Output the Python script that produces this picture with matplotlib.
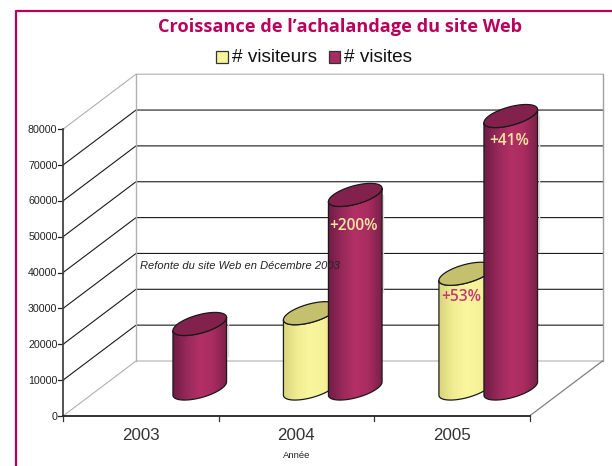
import numpy as np
import matplotlib
matplotlib.use('Agg')
import matplotlib.pyplot as plt
from matplotlib.patches import Polygon, Rectangle
from matplotlib.colors import LinearSegmentedColormap

# Данные
years = ['2003', '2004', '2005']
visiteurs = [None, 21000, 32000]
visites = [18000, 54000, 76000]
y_ticks = [0, 10000, 20000, 30000, 40000, 50000, 60000, 70000, 80000]

title = 'Croissance de l’achalandage du site Web'
note = 'Refonte du site Web en Décembre 2003'
labels_visiteurs = [None, None, '+53%']
labels_visites = [None, '+200%', '+41%']

# Геометрия в пикселях исходной картинки
X0, Y0 = 63, 416
CAT_W = 155.5
UNIT = 35.85 / 10000
DX, DY = 73, -55
MAGENTA = '#B8005C'


def proj(cat, val, depth=0.0):
    return X0 + cat * CAT_W + DX * depth, Y0 - val * UNIT + DY * depth


fig = plt.figure(figsize=(6.12, 4.66), dpi=100)
ax = fig.add_axes([0, 0, 1, 1])

# Рамка
ax.plot([16, 16, 612], [466, 10.5, 10.5], color=MAGENTA, lw=1.6, solid_capstyle='butt')

# Стенки и сетка
n_cat = len(years)
for v in y_ticks:
    col = '#b0b0b0' if v in (0, y_ticks[-1]) else '#1a1a1a'
    x1, y1 = proj(0, v)
    x2, y2 = proj(0, v, 1)
    x3, y3 = proj(n_cat, v, 1)
    ax.plot([x1, x2, x3], [y1, y2, y3], color=col, lw=0.8)
    ax.plot([x1 - 5, x1], [y1, y1], color='#222222', lw=0.9)
    ax.text(x1 - 5.5, y1 + 0.5, str(v), ha='right', va='center', fontsize=7.7,
            family='Liberation Sans', color='#222222')

xa, ya = proj(0, 0, 1)
xb, yb = proj(0, y_ticks[-1], 1)
ax.plot([xa, xb], [ya, yb], color='#b0b0b0', lw=1)
xa, ya = proj(n_cat, 0, 1)
xb, yb = proj(n_cat, y_ticks[-1], 1)
ax.plot([xa, xb], [ya, yb], color='#a0a0a0', lw=1)
xa, ya = proj(n_cat, 0)
xb, yb = proj(n_cat, 0, 1)
ax.plot([xa, xb], [ya, yb], color='#808080', lw=0.9)

# Оси
xa, ya = proj(0, 0)
xb, yb = proj(0, y_ticks[-1])
ax.plot([xa, xb], [ya, yb], color='#444444', lw=1.3)
xb, yb = proj(n_cat, 0)
ax.plot([xa, xb], [ya, yb], color='#222222', lw=1.3)
for i in range(n_cat + 1):
    x, y = proj(i, 0)
    ax.plot([x, x], [y, y + 5], color='#333333', lw=0.9)
for i, yr in enumerate(years):
    x, y = proj(i + 0.5, 0)
    ax.text(x, y + 20, yr, ha='center', va='center', fontsize=12.2,
            family='Liberation Sans', color='#333333')
ax.text(297, 456, 'Année', ha='center', va='center', fontsize=6.8,
        family='Liberation Sans', color='#222222')


def ellipse(cx, cy, t):
    a, b = 22.0, 0.21
    return cx + a * np.cos(t) + b * DX * np.sin(t), cy + b * DY * np.sin(t)


def cylinder(cat, val, cols, top_col, z):
    cx, cy0 = proj(cat, 0, 0.5)
    _, cy1 = proj(cat, val, 0.5)
    # точки касания боковых образующих
    t0 = np.arctan2(0.21 * DX, 22.0)
    t = np.linspace(t0 - np.pi, t0, 60)  # нижняя половина эллипса, слева направо
    bx, by = ellipse(cx, cy0, t)
    tx, ty = ellipse(cx, cy1, t[::-1])
    body = np.column_stack([np.r_[bx, tx], np.r_[by, ty]])
    left, right = cx - 27, cx + 27
    # светлая полоска справа
    ax.plot([right + 1, right + 1], [cy1, (cy0 + cy1) / 2], color='#dddddd', lw=1, zorder=z)
    cmap = LinearSegmentedColormap.from_list('c', cols)
    im = ax.imshow(np.linspace(0, 1, 64)[None, :], cmap=cmap, aspect='auto',
                   extent=[left, right, cy0 + 14, cy1 - 14], zorder=z)
    outline = Polygon(body, closed=True, fc='none', ec='#1a1a1a', lw=0.9, zorder=z + 0.1)
    ax.add_patch(outline)
    im.set_clip_path(outline)
    tt = np.linspace(0, 2 * np.pi, 100)
    ex, ey = ellipse(cx, cy1, tt)
    ax.add_patch(Polygon(np.column_stack([ex, ey]), closed=True, fc=top_col,
                         ec='#1a1a1a', lw=0.9, zorder=z + 0.2))


YELLOW = ['#d9d57e', '#f0ec92', '#faf69e', '#f6f29a', '#e6e28a']
PURPLE = ['#6f1c44', '#97295a', '#b33066', '#a92c60', '#7c2049']
OFFSET = 22.5 / CAT_W

# Цилиндры: сначала посетители, затем визиты
for i in range(n_cat):
    if visiteurs[i] is not None:
        cylinder(i + 0.5 - OFFSET, visiteurs[i], YELLOW, '#c4c06e', 3)
for i in range(n_cat):
    cylinder(i + 0.5 + OFFSET, visites[i], PURPLE, '#82214c', 4)

# Подписи процентов
label_dy_visites = [0, 31, 25]
for i in range(n_cat):
    if labels_visiteurs[i]:
        x, y = proj(i + 0.5 - OFFSET, visiteurs[i], 0.5)
        ax.text(x - 5, y + 23, labels_visiteurs[i], ha='center', va='center', fontsize=11.2,
                family='Open Sans', weight='semibold', color='#C23A72', zorder=5)
    if labels_visites[i]:
        x, y = proj(i + 0.5 + OFFSET, visites[i], 0.5)
        ax.text(x - 2, y + label_dy_visites[i], labels_visites[i], ha='center', va='center',
                fontsize=11.2, family='Open Sans', weight='semibold', color='#F3E6A0', zorder=5)

ax.text(140, 266, note, ha='left', va='center', fontsize=8.0, style='italic',
        family='Liberation Sans', color='#222222', zorder=5)

# Заголовок и легенда
ax.text(340.5, 27, title, ha='center', va='center', fontsize=13.1, weight='bold',
        family='Open Sans', color=MAGENTA)
ax.add_patch(Rectangle((216, 51), 12, 12, fc='#F8F49C', ec='#333333', lw=0.9))
ax.text(232, 57.5, '# visiteurs', ha='left', va='center', fontsize=13.7,
        family='Liberation Sans', color='#111111')
ax.add_patch(Rectangle((328.5, 51), 11.5, 12, fc='#A92C60', ec='#333333', lw=0.9))
ax.text(344, 57.5, '# visites', ha='left', va='center', fontsize=13.7,
        family='Liberation Sans', color='#111111')

ax.set_xlim(0, 612)
ax.set_ylim(466, 0)
ax.axis('off')
fig.savefig('out.png', dpi=100, facecolor='white')
